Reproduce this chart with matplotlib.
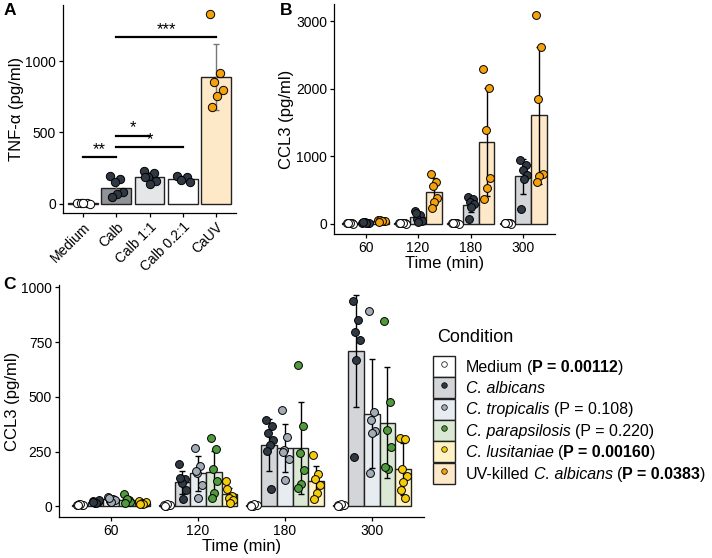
import matplotlib
matplotlib.use("Agg")
from matplotlib import pyplot as plt
from matplotlib.patches import Patch
from matplotlib.lines import Line2D
import numpy as np

plt.rcParams["font.family"] = ["Liberation Sans", "DejaVu Sans"]
plt.rcParams["axes.linewidth"] = 0.9
plt.rcParams["xtick.major.size"] = 3
plt.rcParams["ytick.major.size"] = 3
plt.rcParams["xtick.major.width"] = 0.9
plt.rcParams["ytick.major.width"] = 0.9

################################################################################
# data
################################################################################

# panel A - TNF-alpha
a_labels = ["Medium", "Calb", "Calb 1:1", "Calb 0.2:1", "CaUV"]
a_means = [3, 110, 185, 173, 890]
a_sd = [2, 58, 35, 20, 230]
a_points = [
    [2, 1, 3, 0, 4],
    [196, 173, 150, 79, 68, 44],
    [231, 213, 185, 161, 138, 190],
    [196, 185, 166, 150],
    [1329, 921, 855, 797, 757, 680],
]
a_sig = [(0, 1, 327, "**"), (1, 2, 477, "*"), (1, 3, 395, "*"), (1, 4, 1171, "***")]

# panel B - CCL3 time course
times = ["60", "120", "180", "300"]
b_means = {
    "Medium": [3, 3, 3, 3],
    "Calb": [14, 100, 281, 698],
    "CaUV": [43, 475, 1210, 1603],
}
b_sd = {
    "Medium": [1, 1, 1, 1],
    "Calb": [5, 55, 110, 260],
    "CaUV": [12, 200, 800, 1010],
}
b_points = {
    "Medium": [[3, 2, 4, 1, 5, 2]] * 4,
    "Calb": [[15, 10, 20, 12, 8, 18],
             [188, 124, 74, 40, 25, 150],
             [396, 361, 322, 287, 248, 74],
             [940, 866, 792, 718, 658, 213]],
    "CaUV": [[50, 40, 60, 35, 45, 30],
             [728, 619, 560, 386, 322, 238],
             [2287, 2015, 1386, 678, 530, 366],
             [3094, 2619, 1851, 738, 703, 614]],
}

# panel C - CCL3 by species
c_groups = ["Medium", "Calb", "Ctrop", "Cpara", "Clus"]
c_means = {
    "Medium": [8, 6, 6, 6],
    "Calb": [21, 110, 279, 708],
    "Ctrop": [32, 151, 267, 424],
    "Cpara": [30, 157, 267, 383],
    "Clus": [17, 55, 117, 170],
}
c_sd = {
    "Medium": [3, 2, 2, 2],
    "Calb": [6, 52, 118, 255],
    "Ctrop": [10, 80, 110, 248],
    "Cpara": [15, 95, 210, 255],
    "Clus": [6, 30, 70, 118],
}
c_points = {
    "Medium": [[8, 5, 10, 6, 12, 7], [5, 8, 3, 6, 10, 4], [5, 8, 3, 6, 10, 4], [5, 8, 3, 6, 10, 4]],
    "Calb": [[25, 22, 18, 28, 15, 20],
             [192, 124, 108, 73, 32, 130],
             [394, 368, 334, 302, 281, 253, 78],
             [940, 853, 798, 760, 669, 227]],
    "Ctrop": [[45, 35, 25, 30, 20, 40],
              [269, 185, 154, 98, 40, 160],
              [441, 315, 258, 215, 121, 250],
              [890, 429, 395, 345, 334, 151]],
    "Cpara": [[58, 29, 25, 20, 35, 15],
              [311, 261, 169, 116, 63, 40],
              [646, 368, 246, 166, 104, 85],
              [846, 479, 348, 273, 169, 180]],
    "Clus": [[27, 17, 14, 20, 12, 10],
             [116, 47, 40, 29, 17, 80],
             [235, 150, 124, 98, 63, 32],
             [311, 310, 172, 139, 111, 75, 37]],
}

# legend rows: list of (text, style) pieces, "r" regular, "i" italic, "b" bold
legend_rows = [
    [("Medium", "r"), ("(", "r"), ("P = 0.00112", "b"), (")", "r")],
    [("C. albicans", "i")],
    [("C. tropicalis", "i"), ("(P = 0.108)", "r")],
    [("C. parapsilosis", "i"), ("(P = 0.220)", "r")],
    [("C. lusitaniae", "i"), ("(", "r"), ("P = 0.00160", "b"), (")", "r")],
    [("UV-killed", "r"), ("C. albicans", "i"), ("(", "r"), ("P = 0.0383", "b"), (")", "r")],
]
# which pieces are preceded by a space
legend_gaps = [
    [0, 1, 0, 0],
    [0],
    [0, 1],
    [0, 1],
    [0, 1, 0, 0],
    [0, 1, 1, 0, 0],
]

################################################################################
# styles
################################################################################

fill = {"Medium": "white", "Calb": "#d3d5d8", "Ctrop": "#e7ecf0", "Cpara": "#dbe9d4",
        "Clus": "#fff2c4", "CaUV": "#fde8c8"}
dot = {"Medium": "white", "Calb": "#2f3843", "Ctrop": "#a2acb7", "Cpara": "#4f9a3b",
       "Clus": "#f6cc0a", "CaUV": "#f5a10c"}
a_fill = ["white", "#909397", "#e4e6e8", "white", "#fde8c8"]
a_dot = ["white", "#2f3843", "#2f3843", "#2f3843", "#f5a10c"]

jit = np.array([-0.55, 0.4, -0.15, 0.65, 0.05, -0.4, 0.25])
EDGE = "#222222"
TICK = 10
TITLE = 12


def draw(ax, x, h, sd, pts, fc, dc, width, ecol="black", ms=32):
    ax.bar(x, h, width, color=fc, edgecolor=EDGE, linewidth=1.0, zorder=2)
    ax.errorbar(x, h, yerr=sd, color=ecol, capsize=2, elinewidth=1, capthick=1,
                fmt="none", zorder=3)
    xs = x + jit[:len(pts)] * width * 0.35
    ax.scatter(xs, pts, s=ms, c=dc, edgecolors="black", linewidths=0.7, zorder=4)


def style(ax):
    ax.spines["top"].set_visible(False)
    ax.spines["right"].set_visible(False)
    ax.tick_params(labelsize=TICK, colors="black", pad=2)


fig = plt.figure(figsize=(7.12, 5.58), dpi=100)

################################################################################
# A
################################################################################

ax_a = fig.add_axes([0.0885, 0.6183, 0.243, 0.3728])
for i in range(len(a_labels)):
    draw(ax_a, i, a_means[i], a_sd[i], a_points[i], a_fill[i], a_dot[i], 0.9,
         ecol="#777777", ms=36)
for i0, i1, y, star in a_sig:
    ax_a.plot([i0, i1], [y, y], color="black", lw=1.6, zorder=5)
    ax_a.text((i0 + i1) / 2, y + 2, star, ha="center", va="bottom", fontsize=12)
ax_a.set_xlim(-0.6, 4.6)
ax_a.set_ylim(-66, 1396)
ax_a.set_yticks([0, 500, 1000])
ax_a.set_xticks(range(len(a_labels)))
ax_a.set_xticklabels(a_labels, rotation=45, ha="right", rotation_mode="anchor")
ax_a.set_ylabel("TNF-α (pg/ml)", fontsize=TITLE, labelpad=1)
style(ax_a)

################################################################################
# B
################################################################################

ax_b = fig.add_axes([0.469, 0.5806, 0.3104, 0.4122])
b_keys = ["Medium", "Calb", "CaUV"]
b_off = [-0.3, 0.0, 0.3]
for k, key in enumerate(b_keys):
    for g in range(len(times)):
        draw(ax_b, g + 1 + b_off[k], b_means[key][g], b_sd[key][g], b_points[key][g],
             fill[key], dot[key], 0.3)
ax_b.set_xlim(0.4, 4.6)
ax_b.set_ylim(-155, 3255)
ax_b.set_yticks([0, 1000, 2000, 3000])
ax_b.set_xticks(range(1, 5))
ax_b.set_xticklabels(times)
ax_b.set_xlabel("Time (min)", fontsize=TITLE, labelpad=1)
ax_b.set_ylabel("CCL3 (pg/ml)", fontsize=TITLE, labelpad=1)
style(ax_b)

################################################################################
# C
################################################################################

ax_c = fig.add_axes([0.0829, 0.0735, 0.5126, 0.4158])
c_off = [-0.36, -0.18, 0.0, 0.18, 0.36]
for k, key in enumerate(c_groups):
    for g in range(len(times)):
        draw(ax_c, g + 1 + c_off[k], c_means[key][g], c_sd[key][g], c_points[key][g],
             fill[key], dot[key], 0.18)
ax_c.set_xlim(0.4, 4.6)
ax_c.set_ylim(-48, 1011)
ax_c.set_yticks([0, 250, 500, 750, 1000])
ax_c.set_xticks(range(1, 5))
ax_c.set_xticklabels(times)
ax_c.set_xlabel("Time (min)", fontsize=TITLE, labelpad=1)
ax_c.set_ylabel("CCL3 (pg/ml)", fontsize=TITLE, labelpad=1)
style(ax_c)

################################################################################
# legend
################################################################################

LFS = 11.5
leg_keys = ["Medium", "Calb", "Ctrop", "Cpara", "Clus", "CaUV"]
handles = [(Patch(facecolor=fill[k], edgecolor=EDGE, linewidth=1.0),
            Line2D([], [], ls="", marker="o", markersize=4, markerfacecolor=dot[k],
                   markeredgecolor="black", markeredgewidth=0.5)) for k in leg_keys]
first = [row[0] for row in legend_rows]
leg = fig.legend(handles, [t for t, s in first], loc="upper left",
                 bbox_to_anchor=(433 / 712, 1 - 356 / 558),
                 frameon=False, fontsize=LFS, borderpad=0, borderaxespad=0,
                 handlelength=1.35, handleheight=1.65, labelspacing=0.02,
                 handletextpad=0.7)
fig.text(437 / 712, 1 - 338 / 558, "Condition", fontsize=13, va="center")

styles = {"r": {}, "i": {"style": "italic"}, "b": {"weight": "bold"}}
space = LFS * 0.278
for txt, row, gaps in zip(leg.get_texts(), legend_rows, legend_gaps):
    txt.set(**styles[row[0][1]])
    prev = txt
    for (piece, st), gap in zip(row[1:], gaps[1:]):
        prev = fig.add_artist(plt.Annotation(
            piece, xy=(1, 0), xycoords=prev, xytext=(space * gap, 0),
            textcoords="offset points", va="bottom", ha="left", fontsize=LFS,
            zorder=6, **styles[st]))

# panel letters
fig.text(4 / 712, 1 - 3 / 558, "A", fontsize=12.5, fontweight="bold", va="top")
fig.text(280 / 712, 1 - 3 / 558, "B", fontsize=12.5, fontweight="bold", va="top")
fig.text(3 / 712, 1 - 277 / 558, "C", fontsize=12.5, fontweight="bold", va="top")

plt.savefig("out.png", dpi=100)
